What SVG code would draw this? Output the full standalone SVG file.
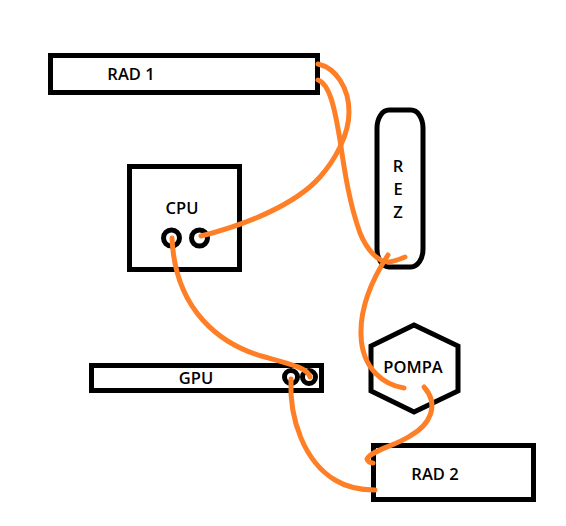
<svg xmlns="http://www.w3.org/2000/svg" width="566" height="526" viewBox="0 0 566 526">
<style>
.b{fill:#fff;stroke:#000;stroke-width:5}
.p{fill:none;stroke:#000;stroke-width:5}
.t{font-family:"Open Sans","Noto Sans","Liberation Sans",sans-serif;font-weight:600;font-size:16.500px;fill:#000;text-anchor:middle}
.c{fill:none;stroke:#ff7f27;stroke-width:5;stroke-linecap:round;stroke-linejoin:round}
</style>
<rect width="566" height="526" fill="#fff"/>
<g id="rad1"><rect class="b" x="50.500" y="55.500" width="267" height="37"/><text class="t" x="131" y="80">RAD 1</text></g>
<g id="rez"><rect class="b" x="377" y="110" width="46" height="157" rx="12" ry="18"/><text class="t" x="398" y="172">R</text><text class="t" x="398" y="195">E</text><text class="t" x="398" y="218">Z</text></g>
<g id="cpu"><rect class="b" x="129.500" y="166.500" width="110" height="103"/><text class="t" x="182" y="214">CPU</text><circle class="p" cx="171.500" cy="238" r="8"/><circle class="p" cx="199.500" cy="238" r="8"/></g>
<g id="gpu"><rect class="b" x="91.500" y="365.500" width="230" height="25"/><text class="t" x="196" y="384">GPU</text><circle class="p" cx="291" cy="377" r="6.500"/><circle class="p" cx="309" cy="377" r="6.500"/></g>
<g id="pompa"><polygon class="p" points="414,325 458,346 458,391 414,412 371,391 371,346"/><text class="t" x="413" y="373">POMPA</text></g>
<g id="rad2"><rect class="b" x="373.500" y="445.500" width="160" height="54"/><text class="t" x="435" y="480">RAD 2</text></g>
<g id="connectors">
<path class="c" d="M318,64C336,68 349,88 349,112C349,135 335,160 320,177C295,205 245,225 201,236"/>
<path class="c" d="M318,80C330,84 335,110 340,140C345,175 350,205 360,233C367,250 378,262 388,262C394,262 400,259 405,257"/>
<path class="c" d="M388,255C375,275 360,305 361,335C362,370 385,385 404,388"/>
<path class="c" d="M172,238C175,310 220,345 265,357C290,364 308,368 310,377"/>
<path class="c" d="M291,379C289,420 305,462 335,480C348,488 360,490 375,490"/>
<path class="c" d="M424,387C440,405 430,425 410,436C395,446 372,450 367,459C368,462 371,463 373,463"/>
</g>
</svg>
